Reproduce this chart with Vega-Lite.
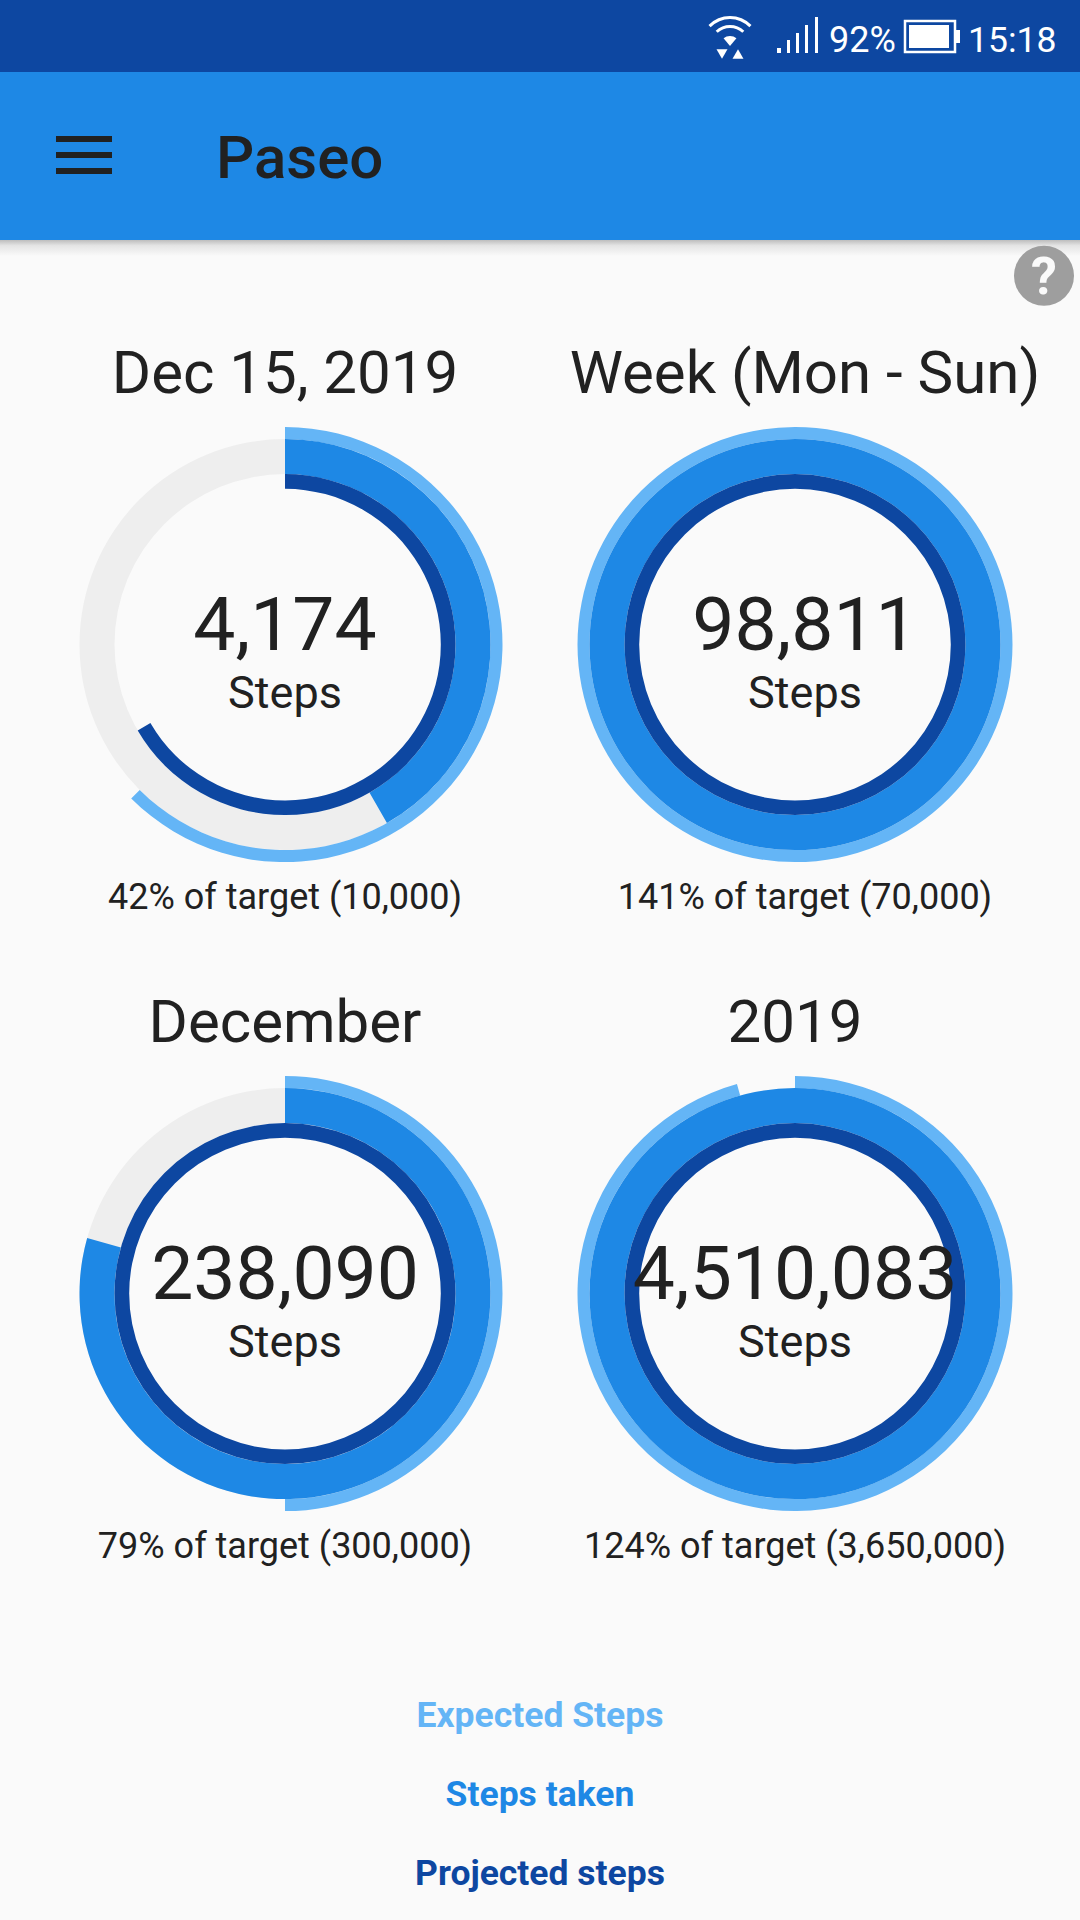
{
"$schema":"https://vega.github.io/schema/vega-lite/v6.json",
"background":"#FAFAFA","padding":0,"spacing":0,
"config":{"view":{"stroke":null},"font":"Roboto","text":{"font":"Roboto"},"header":{"labels":false,"title":null,"labelFontSize":0,"labelPadding":0,"labelExpr":"''"},"facet":{"spacing":0}},
"datasets":{
"screen":[{"app":"Paseo","battery":"92%","time":"15:18","help":"?"}],
"rings":[
{"period":"Dec 15, 2019","series":"Expected Steps","share":0.625},
{"period":"Dec 15, 2019","series":"Steps taken","share":0.4174,"steps":4174,"caption":"42% of target (10,000)"},
{"period":"Dec 15, 2019","series":"Projected steps","share":0.666},
{"period":"Week (Mon - Sun)","series":"Expected Steps","share":1.0},
{"period":"Week (Mon - Sun)","series":"Steps taken","share":1.4116,"steps":98811,"caption":"141% of target (70,000)"},
{"period":"Week (Mon - Sun)","series":"Projected steps","share":1.4116},
{"period":"December","series":"Expected Steps","share":0.5},
{"period":"December","series":"Steps taken","share":0.7936,"steps":238090,"caption":"79% of target (300,000)"},
{"period":"December","series":"Projected steps","share":1.03},
{"period":"2019","series":"Expected Steps","share":0.957},
{"period":"2019","series":"Steps taken","share":1.2356,"steps":4510083,"caption":"124% of target (3,650,000)"},
{"period":"2019","series":"Projected steps","share":1.29}
],
"legend":[{"series":"Expected Steps"},{"series":"Steps taken"},{"series":"Projected steps"}]
},
"vconcat":[
{"width":1080,"height":320,"data":{"name":"screen"},"layer":[
{"mark":{"type":"rect","x":0,"x2":1080,"y":240,"y2":256,"color":{"gradient":"linear","x1":0,"y1":0,"x2":0,"y2":1,"stops":[{"offset":0,"color":"#BDBDBD"},{"offset":0.35,"color":"#E4E4E4"},{"offset":1,"color":"#FAFAFA"}]}}},
{"mark":{"type":"rect","x":0,"x2":1080,"y":0,"y2":72,"color":"#0D47A1"}},
{"mark":{"type":"rect","x":0,"x2":1080,"y":72,"y2":240,"color":"#1E88E5"}},
{"mark":{"type":"rect","x":56,"x2":112,"y":136,"y2":142,"color":"#212121"}},
{"mark":{"type":"rect","x":56,"x2":112,"y":152,"y2":158,"color":"#212121"}},
{"mark":{"type":"rect","x":56,"x2":112,"y":168,"y2":174,"color":"#212121"}},
{"mark":{"type":"text","x":216,"y":178,"align":"left","baseline":"alphabetic","fontSize":60,"fontWeight":500,"color":"#212121"},"encoding":{"text":{"field":"app"}}},
{"mark":{"type":"text","x":829,"y":52,"align":"left","baseline":"alphabetic","fontSize":36,"color":"#FFFFFF"},"encoding":{"text":{"field":"battery"}}},
{"mark":{"type":"text","x":968,"y":52,"align":"left","baseline":"alphabetic","fontSize":35.5,"color":"#FFFFFF"},"encoding":{"text":{"field":"time"}}},
{"mark":{"type":"rect","x":905,"x2":955,"y":21,"y2":52,"fill":"#0D47A1","stroke":"#FFFFFF","strokeWidth":2.5}},
{"mark":{"type":"rect","x":909,"x2":949,"y":25,"y2":48,"color":"#FFFFFF"}},
{"mark":{"type":"rect","x":956,"x2":960,"y":30,"y2":43,"color":"#FFFFFF"}},
{"mark":{"type":"rect","x":777,"x2":781,"y":48,"y2":53,"color":"#FFFFFF"}},
{"mark":{"type":"rect","x":787,"x2":790,"y":40,"y2":53,"color":"#FFFFFF"}},
{"mark":{"type":"rect","x":796,"x2":799,"y":33,"y2":53,"color":"#FFFFFF"}},
{"mark":{"type":"rect","x":805,"x2":808,"y":25,"y2":53,"color":"#FFFFFF"}},
{"mark":{"type":"rect","x":815,"x2":818,"y":17,"y2":53,"color":"#FFFFFF"}},
{"mark":{"type":"arc","x":730,"y":46,"theta":-0.8,"theta2":0.8,"radius":30,"radius2":27,"color":"#FFFFFF"}},
{"mark":{"type":"arc","x":730,"y":46,"theta":-0.75,"theta2":0.75,"radius":21,"radius2":18,"color":"#FFFFFF"}},
{"mark":{"type":"arc","x":730,"y":46,"theta":-0.7,"theta2":0.7,"radius":10,"radius2":0,"color":"#FFFFFF"}},
{"mark":{"type":"point","x":722,"y":54,"shape":"triangle-down","size":120,"filled":true,"opacity":1,"color":"#FFFFFF"}},
{"mark":{"type":"point","x":738,"y":54,"shape":"triangle-up","size":120,"filled":true,"opacity":1,"color":"#FFFFFF"}},
{"mark":{"type":"arc","x":1044,"y":275.7,"theta":0,"theta2":6.2832,"radius":30,"radius2":0,"color":"#9E9E9E"}},
{"mark":{"type":"text","x":1044,"y":294,"align":"center","baseline":"alphabetic","fontSize":52,"fontWeight":700,"color":"#FAFAFA"},"encoding":{"text":{"field":"help"}}}
]},
{"data":{"name":"rings"},"columns":2,"spacing":0,"bounds":"flush",
"facet":{"field":"period","type":"nominal","sort":["Dec 15, 2019","Week (Mon - Sun)","December","2019"],"header":{"title":null,"labels":false,"labelFontSize":0,"labelPadding":0,"labelExpr":"''"}},
"spec":{"width":510,"height":649,"layer":[
{"transform":[{"filter":"datum.series === 'Steps taken'"}],"mark":{"type":"arc","x":285,"y":324.6,"theta":0,"theta2":6.2832,"radius":205.5,"radius2":170.5,"color":"#EEEEEE"}},
{"transform":[{"filter":"datum.series === 'Expected Steps'"}],"mark":{"type":"arc","x":285,"y":324.6,"radius":217.5,"radius2":205.5,"color":"#64B5F6"},"encoding":{"theta":{"field":"share","type":"quantitative","stack":null,"scale":{"domain":[0,1],"range":[0,6.2832],"clamp":true}},"theta2":{"value":0}}},
{"transform":[{"filter":"datum.series === 'Steps taken'"}],"mark":{"type":"arc","x":285,"y":324.6,"radius":205.5,"radius2":170.5,"color":"#1E88E5"},"encoding":{"theta":{"field":"share","type":"quantitative","stack":null,"scale":{"domain":[0,1],"range":[0,6.2832],"clamp":true}},"theta2":{"value":0}}},
{"transform":[{"filter":"datum.series === 'Projected steps'"}],"mark":{"type":"arc","x":285,"y":324.6,"radius":170.5,"radius2":155.8,"color":"#0D47A1"},"encoding":{"theta":{"field":"share","type":"quantitative","stack":null,"scale":{"domain":[0,1],"range":[0,6.2832],"clamp":true}},"theta2":{"value":0}}},
{"transform":[{"filter":"datum.series === 'Steps taken'"}],"mark":{"type":"text","x":{"expr":"datum.period === 'Week (Mon - Sun)' ? 295 : 285"},"y":73,"align":"center","baseline":"alphabetic","fontSize":60,"color":"#212121"},"encoding":{"text":{"field":"period"}}},
{"transform":[{"filter":"datum.series === 'Steps taken'"}],"mark":{"type":"text","x":{"expr":"datum.period === 'Week (Mon - Sun)' ? 295 : 285"},"y":330,"align":"center","baseline":"alphabetic","fontSize":75,"color":"#212121"},"encoding":{"text":{"field":"steps","type":"quantitative","format":",d"}}},
{"transform":[{"filter":"datum.series === 'Steps taken'"}],"mark":{"type":"text","x":{"expr":"datum.period === 'Week (Mon - Sun)' ? 295 : 285"},"y":388,"align":"center","baseline":"alphabetic","fontSize":45,"color":"#212121","text":"Steps"}},
{"transform":[{"filter":"datum.series === 'Steps taken'"}],"mark":{"type":"text","x":{"expr":"datum.period === 'Week (Mon - Sun)' ? 295 : 285"},"y":589,"align":"center","baseline":"alphabetic","fontSize":36,"color":"#212121"},"encoding":{"text":{"field":"caption"}}}
]}},
{"width":1080,"height":302,"data":{"name":"legend"},"layer":[
{"transform":[{"filter":"datum.series === 'Expected Steps'"}],"mark":{"type":"text","x":540,"y":109,"align":"center","baseline":"alphabetic","fontSize":35.5,"fontWeight":700,"color":"#64B5F6"},"encoding":{"text":{"field":"series"}}},
{"transform":[{"filter":"datum.series === 'Steps taken'"}],"mark":{"type":"text","x":540,"y":188,"align":"center","baseline":"alphabetic","fontSize":35.5,"fontWeight":700,"color":"#1E88E5"},"encoding":{"text":{"field":"series"}}},
{"transform":[{"filter":"datum.series === 'Projected steps'"}],"mark":{"type":"text","x":540,"y":267,"align":"center","baseline":"alphabetic","fontSize":35.5,"fontWeight":700,"color":"#0D47A1"},"encoding":{"text":{"field":"series"}}}
]}
]}
